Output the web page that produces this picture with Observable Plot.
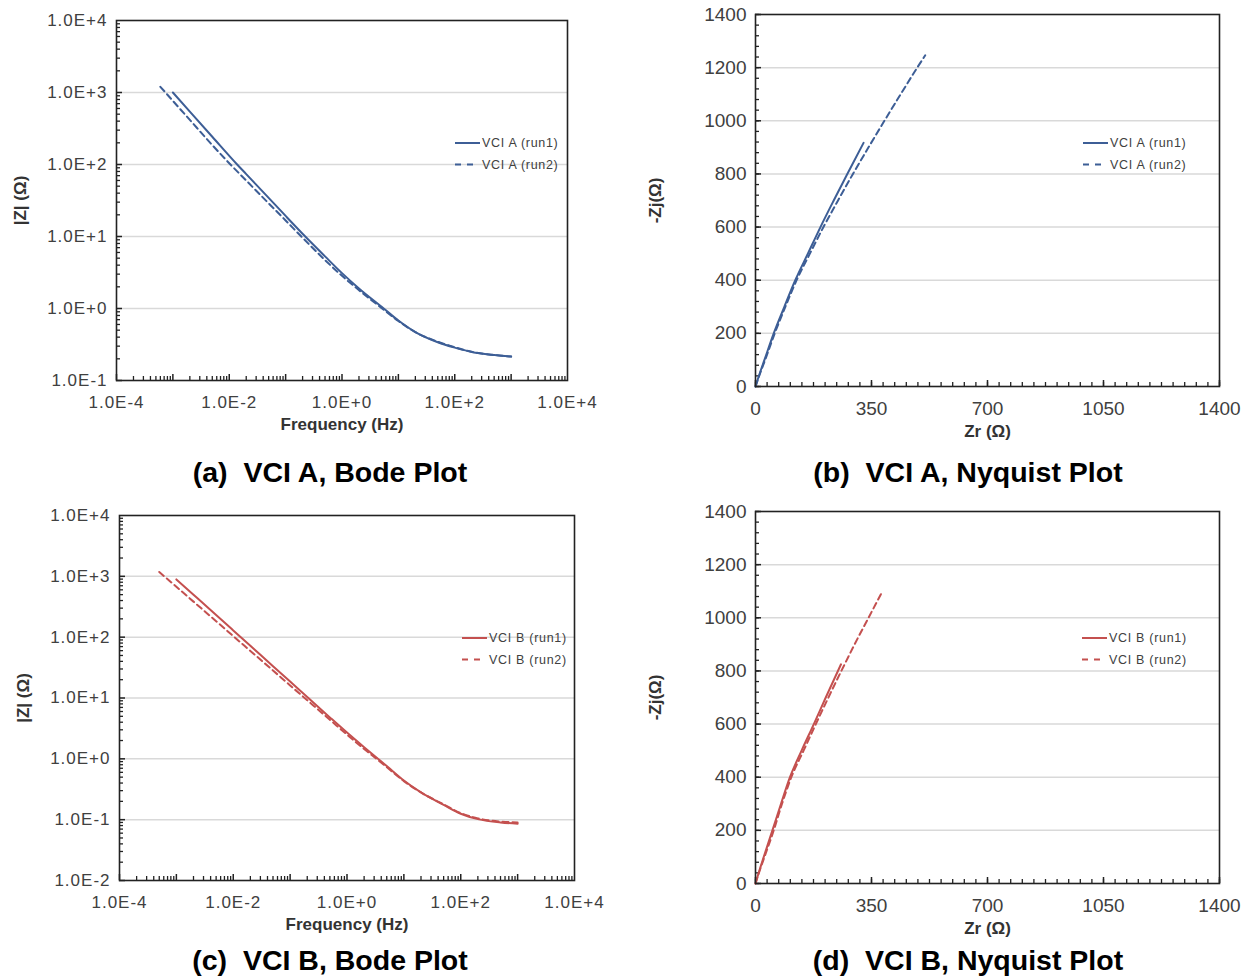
<!DOCTYPE html>
<html><head><meta charset="utf-8">
<script src="https://cdn.jsdelivr.net/npm/d3@7"></script>
<script src="https://cdn.jsdelivr.net/npm/@observablehq/plot@0.6"></script>
<style>
html,body{margin:0;padding:0;background:#fff;width:1248px;height:976px;overflow:hidden;}
#page{position:relative;width:1248px;height:976px;font-family:"Liberation Sans",Arial,sans-serif;}
.panel{position:absolute;}
.cap{position:absolute;font-weight:bold;font-size:28.5px;line-height:28px;white-space:pre;text-align:center;color:#000;font-family:"Liberation Sans",Arial,sans-serif;}
</style></head><body><div id="page"></div>
<script>
// ---------- data ----------
// Bode, VCI A
const bodeFreqA1 = [0.001,0.002,0.005,0.0138,0.02,0.05,0.1,0.223,0.5,1,2,5.5,10,20,50,100,200,500,1000];
const bodeZA1    = [1000,543,243,100,73.5,34.4,19.3,10,5.3,3.1,1.9,1.0,0.68,0.47,0.34,0.286,0.249,0.226,0.215];
const bodeFreqA2 = [0.0006,0.001,0.002,0.005,0.0105,0.02,0.05,0.1,0.19,0.5,1,2,5,10,20,50,100,200,500,1000];
const bodeZA2    = [1200,765,416,186,100,59.9,28.9,16.7,10,4.7,2.84,1.8,1.02,0.67,0.47,0.345,0.29,0.25,0.226,0.215];
// Bode, VCI B
const bodeFreqB1 = [0.001,0.002,0.005,0.01,0.02,0.05,0.1,0.2,0.5,1,2,3.5,5,10,20,50,100,200,500,1000];
const bodeZB1    = [890,498,231,129,72,33.3,18.6,10.4,4.8,2.7,1.55,1.0,0.76,0.44,0.28,0.175,0.125,0.102,0.09,0.086];
const bodeFreqB2 = [0.0005,0.001,0.002,0.005,0.01,0.02,0.05,0.1,0.2,0.5,1,2,3.3,5,10,20,50,100,200,500,1000];
const bodeZB2    = [1180,673,384,183,104,59.4,28.3,16.1,9.2,4.39,2.5,1.45,1.0,0.73,0.43,0.28,0.178,0.128,0.105,0.093,0.09];
// Nyquist, VCI A
const nyqZrA1 = [0,13,27,55,87,120,158,196,236,277,326];
const nyqZjA1 = [0,50,100,200,300,400,500,600,700,800,917];
const nyqZrA2 = [0,14,29,58,90,124,164,205,249,294,341,389,438,488,512];
const nyqZjA2 = [0,50,100,200,300,400,500,600,700,800,900,1000,1100,1200,1246];
// Nyquist, VCI B
const nyqZrB1 = [0,12,25,51,77,104,139,176,212,258];
const nyqZjB1 = [0,50,100,200,300,400,500,600,700,825];
const nyqZrB2 = [0,13,27,55,80,108,145,182,220,259,299,341,381];
const nyqZjB2 = [0,50,100,200,300,400,500,600,700,800,900,1000,1095];

// tick labels / domains
const bodeXTicks = [1e-4,1e-2,1e0,1e2,1e4];
const bodeYTicksA = [1e-1,1e0,1e1,1e2,1e3,1e4];
const bodeYTicksB = [1e-2,1e-1,1e0,1e1,1e2,1e3,1e4];
const nyqXTicks = [0,350,700,1050,1400];
const nyqYTicks = [0,200,400,600,800,1000,1200,1400];
const legendA = ["VCI A (run1)","VCI A (run2)"];
const legendB = ["VCI B (run1)","VCI B (run2)"];
const captions = ["(a)  VCI A, Bode Plot","(b)  VCI A, Nyquist Plot","(c)  VCI B, Bode Plot","(d)  VCI B, Nyquist Plot"];

const blue = "#3d5e96", red = "#c4504f";
const FONT = '"Liberation Sans", Arial, sans-serif';
const fmtE = d => { const e = Math.round(Math.log10(d)); return "1.0E" + (e >= 0 ? "+" : "-") + Math.abs(e); };

function logTicks(lo, hi, major) {
  const out = [];
  for (let e = Math.round(Math.log10(lo)); e < Math.round(Math.log10(hi)); e++)
    for (let k = 1; k < 10; k++) if ((k === 1) === major) out.push(k * 10 ** e);
  return out;
}
function linTicks(lo, hi, step) { const out = []; for (let v = lo; v <= hi + 1e-9; v += step) out.push(v); return out; }
const zip = (xs, ys) => xs.map((x, i) => ({x, y: ys[i]}));

function addLegend(svg, x, y, color, labels) {
  const g = d3.select(svg).append("g").attr("text-anchor", "start");
  labels.forEach((lab, i) => {
    const yy = y + i * 21.5;
    g.append("line").attr("x1", x).attr("x2", x + (i ? 19 : 25)).attr("y1", yy).attr("y2", yy)
      .attr("stroke", color).attr("stroke-width", 2).attr("stroke-dasharray", i ? "6,6" : null);
    g.append("text").attr("x", x + 27).attr("y", yy).attr("dy", "0.35em").attr("text-anchor", "start")
      .attr("font-size", 12.5).attr("letter-spacing", "0.7px").attr("fill", "#404040")
      .attr("font-family", FONT).text(lab);
  });
}

function panel(o) {
  const iw = o.width - o.ml - o.mr, ih = o.height - o.mt - o.mb;
  const isLog = o.type === "log";
  const xMajor = isLog ? logTicks(o.xDomain[0], o.xDomain[1], true) : linTicks(o.xDomain[0], o.xDomain[1], o.xMajorStep);
  const xMinor = isLog ? logTicks(o.xDomain[0], o.xDomain[1], false) : linTicks(o.xDomain[0], o.xDomain[1], o.xMinorStep);
  const yMajor = isLog ? logTicks(o.yDomain[0], o.yDomain[1], true) : linTicks(o.yDomain[0], o.yDomain[1], o.yMajorStep);
  const yMinor = isLog ? logTicks(o.yDomain[0], o.yDomain[1], false) : linTicks(o.yDomain[0], o.yDomain[1], o.yMinorStep);
  const grid = o.yTicks.filter(v => v > o.yDomain[0] && v < o.yDomain[1]);
  const svg = Plot.plot({
    width: o.width, height: o.height,
    marginLeft: o.ml, marginRight: o.mr, marginTop: o.mt, marginBottom: o.mb,
    x: {type: o.type, domain: o.xDomain, label: null},
    y: {type: o.type, domain: o.yDomain, label: null},
    style: {fontFamily: FONT, color: "#404040", background: "transparent", overflow: "visible"},
    marks: [
      Plot.gridY(grid, {stroke: "#d9d9d9", strokeOpacity: 1, strokeWidth: 1.5}),
      Plot.ruleX(xMinor, {insetTop: ih - 4, stroke: "#222", strokeWidth: 1.3}),
      Plot.ruleX(xMajor, {insetTop: ih - 6, stroke: "#222", strokeWidth: 1.5}),
      Plot.ruleY(yMinor, {insetRight: iw - 4, stroke: "#222", strokeWidth: 1.3}),
      Plot.ruleY(yMajor, {insetRight: iw - 6, stroke: "#222", strokeWidth: 1.5}),
      Plot.axisX(o.xTicks, {tickSize: 0, tickPadding: 15, tickFormat: o.fmt, fontSize: o.tickFont}),
      Plot.axisY(o.yTicks, {tickSize: 0, tickPadding: 9, tickFormat: o.fmt, fontSize: o.tickFont}),
      Plot.line(zip(o.x2, o.y2), {x: "x", y: "y", stroke: o.color, strokeWidth: 2, strokeDasharray: "6,4", curve: "monotone-x"}),
      Plot.line(zip(o.x1, o.y1), {x: "x", y: "y", stroke: o.color, strokeWidth: 2, curve: "monotone-x"}),
      Plot.frame({stroke: "#222", strokeWidth: 1.6}),
      Plot.text([o.xLabel], {text: d => d, frameAnchor: "bottom", lineAnchor: "middle", textAnchor: "middle", dy: o.xLabelDy, fontWeight: "bold", fontSize: 17, fill: "#333"}),
      Plot.text([o.yLabel], {text: d => d, frameAnchor: "left", lineAnchor: "middle", textAnchor: "middle", dx: -o.yLabelDx, rotate: -90, fontWeight: "bold", fontSize: 17, fill: "#333"})
    ]
  });
  if (o.letterSpacing) d3.select(svg).selectAll('g[aria-label$="tick label"] text').attr("letter-spacing", o.letterSpacing);
  addLegend(svg, o.legX, o.legY, o.color, o.legend);
  const div = document.createElement("div");
  div.className = "panel";
  div.style.left = o.left + "px"; div.style.top = o.top + "px";
  div.appendChild(svg);
  document.getElementById("page").appendChild(div);
}

const bodeCommon = {type: "log", xDomain: [1e-4, 1e4], xTicks: bodeXTicks, fmt: fmtE, tickFont: 17, letterSpacing: "1px",
  xLabel: "Frequency (Hz)", yLabel: "|Z| (Ω)", xLabelDy: 44, yLabelDx: 96, width: 600};
const nyqCommon = {type: "linear", xDomain: [0, 1400], yDomain: [0, 1400], xTicks: nyqXTicks, yTicks: nyqYTicks,
  xMajorStep: 350, xMinorStep: 35, yMajorStep: 200, yMinorStep: 40, fmt: d => String(d), tickFont: 19,
  xLabel: "Zr (Ω)", yLabel: "-Zj(Ω)", xLabelDy: 45, yLabelDx: 100, width: 628, ml: 135, mr: 29};

panel({...bodeCommon, left: 0, top: 0, height: 440, ml: 116, mr: 33, mt: 20, mb: 60,
  yDomain: [1e-1, 1e4], yTicks: bodeYTicksA, x1: bodeFreqA1, y1: bodeZA1, x2: bodeFreqA2, y2: bodeZA2,
  color: blue, legend: legendA, legX: 455, legY: 143});
panel({...nyqCommon, left: 620, top: 0, height: 446, mt: 14, mb: 60,
  x1: nyqZrA1, y1: nyqZjA1, x2: nyqZrA2, y2: nyqZjA2, color: blue, legend: legendA, legX: 463, legY: 143});
panel({...bodeCommon, left: 0, top: 490, height: 450, ml: 119, mr: 26, mt: 25, mb: 60,
  yDomain: [1e-2, 1e4], yTicks: bodeYTicksB, x1: bodeFreqB1, y1: bodeZB1, x2: bodeFreqB2, y2: bodeZB2,
  color: red, legend: legendB, legX: 462, legY: 148});
panel({...nyqCommon, left: 620, top: 490, height: 453, mt: 21, mb: 60,
  x1: nyqZrB1, y1: nyqZjB1, x2: nyqZrB2, y2: nyqZjB2, color: red, legend: legendB, legX: 462, legY: 148});

const capPos = [[30, 458], [668, 458], [30, 946], [668, 946]];
captions.forEach((t, i) => {
  const d = document.createElement("div");
  d.className = "cap";
  d.style.left = capPos[i][0] + "px"; d.style.top = capPos[i][1] + "px"; d.style.width = "600px";
  d.textContent = t;
  document.getElementById("page").appendChild(d);
});
</script></body></html>
